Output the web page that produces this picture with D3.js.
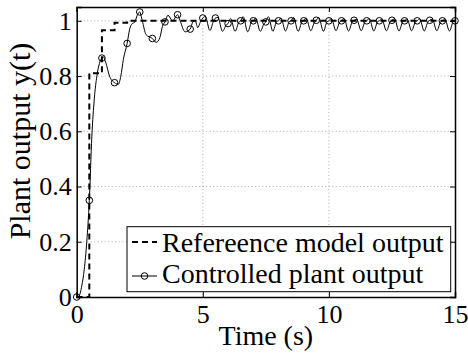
<!DOCTYPE html>
<html>
<head>
<meta charset="utf-8">
<script src="https://cdn.jsdelivr.net/npm/d3@7"></script>
<style>
  body { margin: 0; background: #fff; }
  svg { display: block; }
  svg text { font-family: "Liberation Serif", "Times New Roman", serif; fill: #000; }
</style>
</head>
<body>
<div id="chart"></div>
<script>
var width = 468;
var height = 353;

// axis ticks
var xTicks = [0, 5, 10, 15];
var yTicks = [0, 0.2, 0.4, 0.6, 0.8, 1];

// reference model output (zero order hold, 0.5 s samples)
var refT = [0, 0.5, 1, 1.5, 2, 15];
var refY = [0, 0.81, 0.966, 0.993, 1, 1];

// controlled plant output [t, y]
var plantPts = [
	[0, 0], [0.1, 0.005], [0.2, 0.04], [0.3, 0.1], [0.4, 0.2],
	[0.5, 0.35], [0.6, 0.58], [0.7, 0.72], [0.8, 0.8], [0.9, 0.845],
	[1, 0.865], [1.05, 0.87], [1.15, 0.85], [1.3, 0.8],
	[1.5, 0.776], [1.65, 0.77], [1.75, 0.8], [1.85, 0.86],
	[2, 0.918], [2.1, 0.97], [2.2, 0.99], [2.3, 0.995], [2.4, 1.02],
	[2.5, 1.032], [2.6, 1.0], [2.75, 0.95],
	[3, 0.936], [3.15, 0.922], [3.3, 0.94], [3.4, 0.98],
	[3.5, 0.996], [3.62, 1.02], [3.8, 1.0],
	[4, 1.022], [4.1, 1.0], [4.3, 0.96],
	[4.5, 0.97], [4.6, 0.995], [4.7, 1.0], [4.8, 0.975], [4.9, 0.995],
	[5, 1.01], [5.1, 1.016], [5.28, 0.965], [5.43, 1.0],
	[5.5, 1.01], [5.6, 1.012], [5.78, 0.962], [5.93, 0.985],
	[6, 0.99], [6.1, 1.008], [6.28, 0.962], [6.43, 0.995],
	[6.5, 1.0], [6.6, 1.015], [6.78, 0.96], [6.93, 0.995],
	[7, 1.0], [7.1, 1.01], [7.28, 0.962], [7.43, 0.99],
	[7.5, 0.996], [7.6, 1.015], [7.78, 0.962], [7.93, 0.998],
	[8, 1.0], [8.1, 1.01], [8.28, 0.963], [8.43, 0.997],
	[8.5, 1.0], [8.6, 1.012], [8.78, 0.962], [8.93, 0.996],
	[9, 1.0], [9.1, 1.01], [9.28, 0.964], [9.43, 0.995],
	[9.5, 1.002], [9.6, 1.012], [9.78, 0.962], [9.93, 0.997],
	[10, 1.0], [10.1, 1.008], [10.28, 0.964], [10.43, 0.996],
	[10.5, 1.0], [10.6, 1.008], [10.78, 0.963], [10.93, 0.997],
	[11, 1.002], [11.1, 1.006], [11.28, 0.964], [11.43, 0.996],
	[11.5, 1.0], [11.6, 1.008], [11.78, 0.963], [11.93, 0.997],
	[12, 1.0], [12.1, 1.006], [12.28, 0.964], [12.43, 0.996],
	[12.5, 1.002], [12.6, 1.007], [12.78, 0.963], [12.93, 0.997],
	[13, 1.0], [13.1, 1.006], [13.28, 0.964], [13.43, 0.996],
	[13.5, 1.0], [13.6, 1.007], [13.78, 0.963], [13.93, 0.997],
	[14, 1.002], [14.1, 1.006], [14.28, 0.964], [14.43, 0.996],
	[14.5, 1.0], [14.6, 1.007], [14.78, 0.963], [14.93, 0.997],
	[15, 1.0]
];

var legendLabels = ["Refereence model output", "Controlled plant output"];

var serif = "'Liberation Serif', 'Times New Roman', serif";

var plotLeft = 76.7, plotRight = 455, plotTop = 7, plotBottom = 297;

var x = d3.scaleLinear().domain([0, 15]).range([plotLeft, plotRight]);
var y = d3.scaleLinear().domain([0, 1.05]).range([plotBottom, plotTop]);

var svg = d3.select("#chart")
	.append("svg")
	.attr("width", width)
	.attr("height", height)
	.attr("font-family", serif);

// grid
var grid = svg.append("g")
	.attr("stroke", "#999")
	.attr("stroke-width", 0.8)
	.attr("stroke-dasharray", "1,2.5");

grid.selectAll(".gx")
	.data(xTicks.filter(function(d){ return d > 0 && d < 15; }))
	.enter()
	.append("line")
	.attr("x1", function(d){ return x(d); })
	.attr("x2", function(d){ return x(d); })
	.attr("y1", plotTop)
	.attr("y2", plotBottom);

grid.selectAll(".gy")
	.data(yTicks.filter(function(d){ return d > 0; }))
	.enter()
	.append("line")
	.attr("x1", plotLeft)
	.attr("x2", plotRight)
	.attr("y1", function(d){ return y(d); })
	.attr("y2", function(d){ return y(d); });

// axes, ticks pointing inward
var tickFont = 26;

svg.append("g")
	.attr("transform", "translate(0," + plotBottom + ")")
	.call(d3.axisBottom(x).tickValues(xTicks).tickSize(-5).tickPadding(7.5).tickFormat(d3.format("d")));

svg.append("g")
	.attr("transform", "translate(0," + plotTop + ")")
	.call(d3.axisTop(x).tickValues(xTicks).tickSize(-5).tickFormat(""));

svg.append("g")
	.attr("transform", "translate(" + plotLeft + ",0)")
	.call(d3.axisLeft(y).tickValues(yTicks).tickSize(-5).tickPadding(5)
		.tickFormat(function(d){ return d === 0 || d === 1 ? d : d.toFixed(1); }));

svg.append("g")
	.attr("transform", "translate(" + plotRight + ",0)")
	.call(d3.axisRight(y).tickValues(yTicks).tickSize(-5).tickFormat(""));

svg.selectAll(".domain").attr("stroke-width", 1.5);
svg.selectAll(".tick line").attr("stroke-width", 1);
svg.selectAll("g").attr("font-family", serif);
svg.selectAll(".tick text")
	.attr("font-size", tickFont)
	.attr("fill", "#000");

// reference model (dashed steps)
var refData = refT.map(function(t, i){ return [t, refY[i]]; });

svg.append("path")
	.datum(refData)
	.attr("fill", "none")
	.attr("stroke", "#000")
	.attr("stroke-width", 2)
	.attr("stroke-dasharray", "6,4")
	.attr("d", d3.line()
		.x(function(d){ return x(d[0]); })
		.y(function(d){ return y(d[1]); })
		.curve(d3.curveStepAfter));

// plant output
svg.append("path")
	.datum(plantPts)
	.attr("fill", "none")
	.attr("stroke", "#000")
	.attr("stroke-width", 1)
	.attr("d", d3.line()
		.x(function(d){ return x(d[0]); })
		.y(function(d){ return y(d[1]); })
		.curve(d3.curveMonotoneX));

svg.selectAll(".marker")
	.data(plantPts.filter(function(d){ return Math.abs(d[0] * 2 - Math.round(d[0] * 2)) < 1e-9; }))
	.enter()
	.append("circle")
	.attr("class", "marker")
	.attr("cx", function(d){ return x(d[0]); })
	.attr("cy", function(d){ return y(d[1]); })
	.attr("r", 3.3)
	.attr("fill", "none")
	.attr("stroke", "#000")
	.attr("stroke-width", 1);

// axis labels
svg.append("text")
	.attr("x", (plotLeft + plotRight) / 2)
	.attr("y", 345)
	.attr("text-anchor", "middle")
	.attr("font-size", 28)
	.text("Time (s)");

svg.append("text")
	.attr("transform", "translate(30,141) rotate(-90)")
	.attr("text-anchor", "middle")
	.attr("font-size", 30)
	.text("Plant output y(t)");

// legend
var legend = svg.append("g");

legend.append("rect")
	.attr("x", 127)
	.attr("y", 226.7)
	.attr("width", 323.7)
	.attr("height", 65)
	.attr("fill", "#fff")
	.attr("stroke", "#000")
	.attr("stroke-width", 1);

legend.append("line")
	.attr("x1", 132).attr("x2", 157)
	.attr("y1", 242).attr("y2", 242)
	.attr("stroke", "#000")
	.attr("stroke-width", 2)
	.attr("stroke-dasharray", "6,4");

legend.append("line")
	.attr("x1", 132).attr("x2", 157)
	.attr("y1", 276).attr("y2", 276)
	.attr("stroke", "#000")
	.attr("stroke-width", 1);

legend.append("circle")
	.attr("cx", 144.5)
	.attr("cy", 276)
	.attr("r", 3.3)
	.attr("fill", "none")
	.attr("stroke", "#000");

legend.selectAll(".ltext")
	.data(legendLabels)
	.enter()
	.append("text")
	.attr("x", 162)
	.attr("y", function(d, i){ return 251.7 + i * 31.6; })
	.attr("font-size", 28)
	.text(function(d){ return d; });
</script>
</body>
</html>
